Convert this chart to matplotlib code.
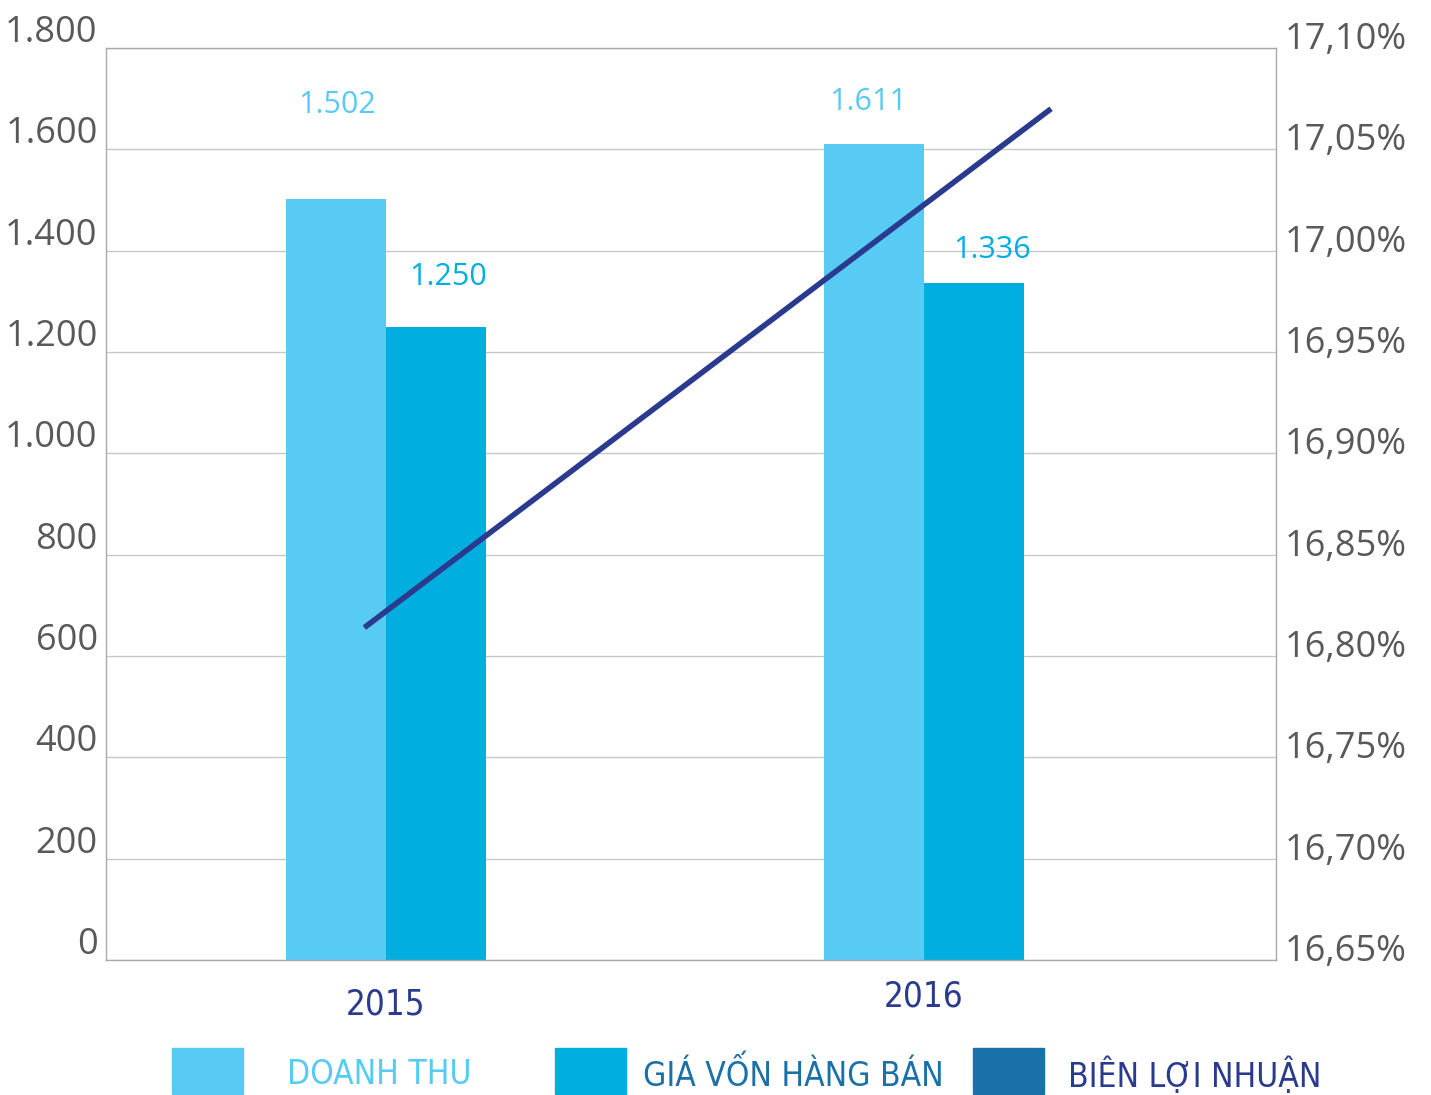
import matplotlib.pyplot as plt
import matplotlib.transforms as mtransforms
from matplotlib.patches import Rectangle

# data
years = ['2015', '2016']
doanh_thu = [1502, 1611]
gia_von = [1250, 1336]
bien_loi_nhuan = [16.814, 17.07]
left_ticks = [0, 200, 400, 600, 800, 1000, 1200, 1400, 1600, 1800]
right_ticks = [16.65, 16.70, 16.75, 16.80, 16.85, 16.90, 16.95, 17.00, 17.05, 17.10]
legend_labels = ['DOANH THU', 'GIÁ VỐN HÀNG BÁN', 'BIÊN LỢI NHUẬN']

c_dt = '#58cbf5'
c_gv = '#00aee0'
c_line = '#2a3b8f'
c_leg3 = '#1a70a8'
gray = '#58595b'
plt.rcParams['font.family'] = ['Open Sans', 'DejaVu Sans']

fig = plt.figure(figsize=(14.31, 10.95), dpi=100)
ax = fig.add_axes([0.0741, 0.1233, 0.8176, 0.8329])

x = [0, 1]
w = 0.186
ax.bar([i - w / 2 for i in x], doanh_thu, width=w, color=c_dt, zorder=2)
ax.bar([i + w / 2 for i in x], gia_von, width=w, color=c_gv, zorder=2)

ax.set_xlim(-0.52, 1.654)
ax.set_ylim(0, 1800)
ax.set_yticks(left_ticks)
ax.set_yticklabels([f'{v:,}'.replace(',', '.') for v in left_ticks])
ax.tick_params(axis='y', length=0, pad=6, labelsize=26, labelcolor=gray)
ax.grid(axis='y', color='#c8c8c8', linewidth=1.0, zorder=0)
for s in ax.spines.values():
    s.set_color('#a7a9ac')
    s.set_linewidth(1.0)

ax.set_xticks(x)
ax.set_xticklabels(years)
ax.tick_params(axis='x', length=0, pad=20, labelsize=25, labelcolor=c_line)
for lab in ax.get_xticklabels():
    lab.set_family('DejaVu Sans')
    lab.set_stretch('condensed')
ax.get_xticklabels()[1].set_transform(ax.get_xticklabels()[1].get_transform() +
                                      mtransforms.ScaledTranslation(0, 6 / 72, fig.dpi_scale_trans))

shift = mtransforms.ScaledTranslation(0, 14 / 72, fig.dpi_scale_trans)
for lab in ax.get_yticklabels():
    lab.set_transform(lab.get_transform() + shift)

# value labels
dt_off = [(1, 68), (-4, 30)]
gv_off = [(9, 36), (13, 24)]
for i in x:
    ax.annotate(f'{doanh_thu[i]:,}'.replace(',', '.'), (i - w / 2, doanh_thu[i]),
                xytext=dt_off[i], textcoords='offset points', ha='center',
                va='center', fontsize=22, color=c_dt)
    ax.annotate(f'{gia_von[i]:,}'.replace(',', '.'), (i + w / 2, gia_von[i]),
                xytext=gv_off[i], textcoords='offset points', ha='center',
                va='center', fontsize=22, color=c_gv)

# margin line on right axis
ax2 = ax.twinx()
ax2.plot([-0.04, 1.236], bien_loi_nhuan, color=c_line, linewidth=4.0,
         solid_capstyle='butt', zorder=3)
ax2.set_ylim(16.65, 17.10)
ax2.set_yticks(right_ticks)
ax2.set_yticklabels([f'{v:.2f}%'.replace('.', ',') for v in right_ticks])
ax2.tick_params(axis='y', length=0, pad=6, labelsize=26, labelcolor=gray)
shift2 = mtransforms.ScaledTranslation(0, 9 / 72, fig.dpi_scale_trans)
for lab in ax2.get_yticklabels():
    lab.set_transform(lab.get_transform() + shift2)
for s in ax2.spines.values():
    s.set_visible(False)

# legend
W, H = 1431, 1095
boxes = [(172, c_dt), (555, c_gv), (973, c_leg3)]
texts = [(287, c_dt), (643, '#1a70a8'), (1068, c_line)]
for (bx, bc), (tx, tc), lbl in zip(boxes, texts, legend_labels):
    fig.add_artist(Rectangle((bx / W, 1 - 1094 / H), 71 / W, 46 / H,
                             transform=fig.transFigure, color=bc))
    fig.text(tx / W, 1 - 1075 / H, lbl, fontsize=24, color=tc,
             va='center', ha='left', family='DejaVu Sans', stretch='condensed')

fig.savefig('out.png', dpi=100)
